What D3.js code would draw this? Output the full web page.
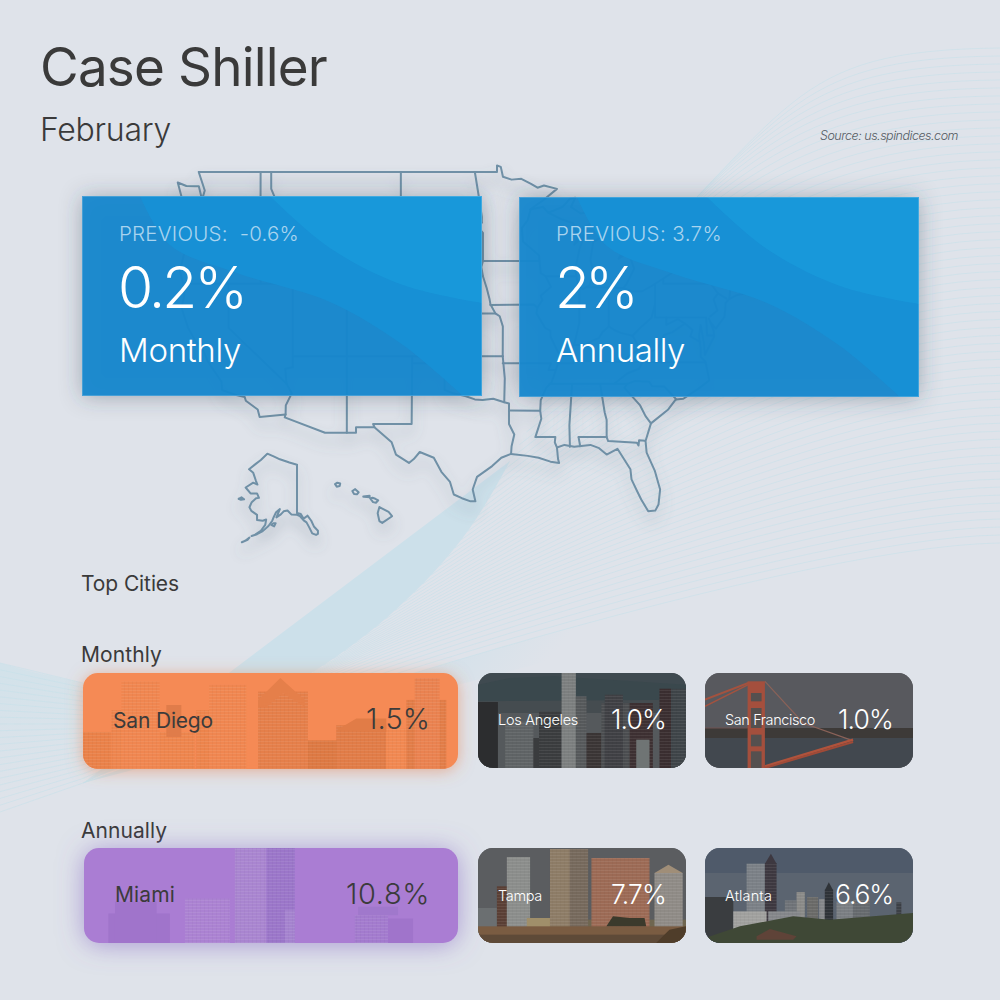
<!DOCTYPE html>
<html><head><meta charset="utf-8">
<script src="https://cdn.jsdelivr.net/npm/d3@7"></script>
<style>html,body{margin:0;padding:0;background:#dfe3ea}svg{display:block}text{font-family:Inter,"Open Sans",sans-serif}</style>
</head><body><svg id="c" width="1000" height="1000" viewBox="0 0 1000 1000"></svg>
<script>
// ---------- data ----------
const titleText = "Case Shiller", monthText = "February", sourceText = "Source: us.spindices.com";
const headlineLabels = ["Monthly", "Annually"];
const headlineValues = [0.2, 2];
const previousValues = [-0.6, 3.7];
const monthlyCities = ["San Diego", "Los Angeles", "San Francisco"];
const monthlyValues = [1.5, 1.0, 1.0];
const annualCities = ["Miami", "Tampa", "Atlanta"];
const annualValues = [10.8, 7.7, 6.6];

// US map, [lon, lat]
const coast48 = [[-124.7,48.38],[-123.9,48.17],[-123.1,48.15],[-122.75,48.15],[-122.45,47.35],[-122.2,47.9],[-122.5,48.5],[-122.76,49],[-95.15,49],[-95.15,49.38],[-94.8,49.3],[-94.6,48.72],[-93.8,48.55],[-92.9,48.6],[-92,48.3],[-91.4,48.07],[-90.8,48.2],[-89.6,48.0],[-90.9,47.3],[-92.1,46.75],[-90.9,46.9],[-90.4,46.55],[-89.1,46.9],[-88.4,47.4],[-87.9,47.47],[-88.3,46.9],[-87.4,46.5],[-86.2,46.65],[-85,46.75],[-84.4,46.5],[-84.1,46.0],[-84.7,45.9],[-85.5,46.05],[-86.5,45.85],[-87.0,45.7],[-87.6,45.1],[-88.0,44.55],[-87.0,45.25],[-87.5,44.3],[-87.9,43.0],[-87.8,42.5],[-87.6,41.8],[-87.2,41.65],[-86.6,41.9],[-86.25,42.7],[-86.5,43.6],[-86.25,44.7],[-85.6,45.0],[-85.0,45.7],[-84.75,45.78],[-83.4,45.2],[-83.3,44.4],[-83.9,43.65],[-83.0,44.05],[-82.45,43.0],[-82.9,42.35],[-83.15,42.0],[-83.45,41.72],[-82.7,41.5],[-81.7,41.5],[-80.5,42.0],[-79.0,42.7],[-78.9,42.9],[-79.05,43.27],[-77.5,43.25],[-76.2,43.55],[-76.3,44.1],[-75.3,44.85],[-74.7,45.0],[-71.5,45.0],[-71.3,45.3],[-70.8,45.4],[-70.3,45.9],[-70.0,46.7],[-69.2,47.45],[-68.3,47.35],[-67.8,47.07],[-67.8,45.7],[-67.45,45.3],[-67.0,44.85],[-68.5,44.3],[-69.8,43.8],[-70.6,43.1],[-70.8,42.7],[-71.0,42.3],[-70.6,41.95],[-70.0,41.8],[-70.0,42.05],[-69.95,41.7],[-70.65,41.55],[-71.4,41.45],[-72.9,41.25],[-73.7,40.95],[-74.0,40.7],[-74.0,40.45],[-74.1,39.75],[-74.9,38.95],[-75.4,39.4],[-75.55,39.65],[-75.1,38.8],[-75.05,38.4],[-75.9,37.1],[-76.0,37.95],[-76.3,39.2],[-76.45,38.4],[-76.3,37.6],[-76.3,36.95],[-75.85,36.6],[-75.5,35.25],[-76.5,34.65],[-77.9,33.9],[-78.6,33.85],[-79.3,33.1],[-80.9,32.05],[-81.4,30.7],[-81.3,29.8],[-80.55,28.4],[-80.05,26.9],[-80.2,25.7],[-80.5,25.2],[-81.15,25.15],[-81.8,26.1],[-82.2,26.8],[-82.7,27.7],[-82.8,28.5],[-83.4,29.3],[-84.0,30.1],[-85.0,29.65],[-85.7,30.15],[-86.5,30.4],[-88.0,30.25],[-88.9,30.4],[-89.6,30.2],[-89.5,29.3],[-89.4,29.0],[-90.2,29.1],[-91.3,29.4],[-92.3,29.55],[-93.85,29.7],[-94.75,29.4],[-95.6,28.75],[-97.0,27.9],[-97.4,26.9],[-97.15,25.95],[-97.6,25.95],[-98.4,26.2],[-99.15,26.5],[-99.5,27.5],[-100.3,28.3],[-101.0,29.4],[-102.3,29.85],[-102.85,29.3],[-103.3,29.0],[-104.5,29.65],[-104.9,30.6],[-106.5,31.75],[-108.2,31.75],[-108.2,31.33],[-111.07,31.33],[-114.8,32.5],[-114.72,32.72],[-117.12,32.53],[-117.3,33.1],[-118.4,33.75],[-118.5,34.03],[-119.2,34.15],[-120.6,34.55],[-120.65,35.15],[-121.9,36.6],[-122.5,37.7],[-123.0,38.0],[-123.75,39.0],[-124.35,40.4],[-124.1,41.2],[-124.2,42.0],[-124.5,42.85],[-124.1,44.0],[-123.95,46.2],[-124.1,46.9],[-124.7,48.38]];
const stateBorders = [
 [[-124,46.25],[-123.2,46.15],[-122.8,45.65],[-121.2,45.65],[-119.3,45.93],[-116.92,46.0]],
 [[-117.03,49],[-117.04,46.4],[-116.92,46.0],[-116.5,45.5],[-116.9,45.0],[-117.2,44.4],[-117.03,43.8],[-117.03,42]],
 [[-124.2,42],[-111.05,42]],
 [[-120,42],[-120,39],[-114.63,35],[-114.15,34.3],[-114.7,33.4],[-114.72,32.72]],
 [[-114.63,35],[-114.75,36.1],[-114.05,36.2]],
 [[-114.05,42],[-114.05,36.2]],
 [[-114.05,37],[-94.62,37]],
 [[-109.05,41],[-109.05,31.33]],
 [[-111.05,45],[-111.05,41],[-102.05,41],[-102.05,37]],
 [[-111.05,45],[-104.05,45],[-104.05,41]],
 [[-116.05,49],[-116.05,48],[-115.7,47.45],[-114.7,46.7],[-114.35,46.65],[-114.5,45.55],[-113.9,45.6],[-113.45,44.95],[-113,44.45],[-111.5,44.55],[-111.05,44.5]],
 [[-104.05,49],[-104.05,45]],
 [[-104.05,45.94],[-96.56,45.94]],
 [[-104.05,43],[-98.5,43],[-97.9,42.8],[-97.2,42.85],[-96.45,42.5]],
 [[-102.05,40],[-95.3,40]],
 [[-103.0,37],[-103.05,32],[-106.62,32],[-106.5,31.78]],
 [[-103,36.5],[-100,36.5],[-100,34.56],[-99.2,34.3],[-98.1,34.1],[-97.2,33.85],[-96.5,33.8],[-95.5,33.9],[-94.48,33.64]],
 [[-94.62,37],[-94.43,35.4],[-94.48,33.64],[-94.04,33.55],[-94.04,32],[-93.55,31.2],[-93.8,30.3],[-93.85,29.7]],
 [[-94.04,33.02],[-91.15,33.0]],
 [[-97.2,49],[-96.85,47.6],[-96.55,46.3],[-96.56,45.94],[-96.85,45.6],[-96.45,45.3],[-96.45,43.5],[-91.22,43.5]],
 [[-96.45,43.5],[-96.6,43.1],[-96.45,42.5],[-96.1,41.7],[-95.85,41],[-95.75,40.6],[-95.3,40],[-94.9,39.8],[-94.61,39.1],[-94.62,37]],
 [[-95.77,40.58],[-91.73,40.6],[-91.42,40.38]],
 [[-92.05,46.72],[-92.3,46.1],[-92.85,45.6],[-92.75,44.75],[-91.25,43.85],[-91.22,43.5],[-91.1,42.7],[-90.65,42.5],[-90.15,41.8],[-91.1,41.2],[-90.95,40.9],[-91.42,40.38],[-91.5,40.0],[-90.7,39.0],[-90.2,38.8],[-90.2,38.4],[-89.5,37.3],[-89.15,37.0],[-89.5,36.5],[-89.7,36.0],[-90.1,35.1],[-90.6,34.7],[-91.1,33.8],[-91.15,33.0],[-91.05,32.4],[-91.6,31.0],[-89.75,31.0],[-89.8,30.6],[-89.6,30.2]],
 [[-94.62,36.5],[-90.15,36.5],[-90.4,36.0],[-89.7,36.0]],
 [[-90.65,42.5],[-87.8,42.5]],
 [[-90.4,46.55],[-89.1,46.13],[-88.1,45.9],[-87.8,45.35],[-87.6,45.1]],
 [[-87.53,41.7],[-87.53,39.35],[-87.95,38.0],[-88.05,37.8]],
 [[-89.15,37.0],[-88.45,37.1],[-88.05,37.8],[-87.1,37.8],[-86.3,38.1],[-85.7,38.3],[-85.4,38.7],[-84.8,39.1],[-84.3,38.85],[-83.7,38.65],[-82.6,38.45],[-81.75,39.1],[-80.85,39.7],[-80.52,40.63]],
 [[-84.8,39.1],[-84.8,41.75]],
 [[-86.8,41.76],[-84.8,41.75],[-83.45,41.72]],
 [[-80.52,42],[-80.52,39.72],[-75.79,39.72],[-75.7,38.46],[-75.05,38.46]],
 [[-79.76,42.27],[-79.76,42],[-75.35,42],[-74.7,41.36],[-75.1,40.95],[-74.75,40.2],[-75.4,39.8]],
 [[-74.7,41.36],[-73.9,41.0]],
 [[-73.65,41.0],[-73.5,42.05],[-73.27,42.75],[-73.35,45.0]],
 [[-73.5,42.05],[-71.8,42.02],[-71.38,42.02],[-71.2,41.5]],
 [[-71.8,42.02],[-71.85,41.32]],
 [[-73.27,42.75],[-71.3,42.7],[-70.8,42.87]],
 [[-72.46,42.73],[-72.3,43.7],[-72.05,44.3],[-71.5,45.0]],
 [[-71.08,45.3],[-70.98,43.4],[-70.7,43.07]],
 [[-79.48,39.72],[-79.48,39.2],[-78.4,39.6],[-77.75,39.3],[-77.05,38.85],[-77.25,38.4],[-76.3,38.0]],
 [[-77.75,39.3],[-78.9,38.7],[-79.7,38.5],[-80.3,37.5],[-81.7,37.2],[-81.95,37.55],[-82.6,38.45]],
 [[-81.95,37.55],[-83.68,36.6],[-81.68,36.59],[-75.85,36.55]],
 [[-89.5,36.5],[-88.07,36.5],[-88.07,36.68],[-83.68,36.6]],
 [[-81.68,36.59],[-82.0,36.1],[-83.1,35.75],[-84.3,35.0]],
 [[-90.3,35.0],[-83.1,35.0],[-82.4,35.2],[-81.05,35.15],[-80.8,34.82],[-79.67,34.8],[-78.55,33.85]],
 [[-83.1,35.0],[-83.35,34.7],[-81.9,33.4],[-81.4,32.6],[-80.9,32.05]],
 [[-85.6,34.98],[-85.18,32.87],[-85.0,32.3],[-85.0,31.0],[-84.86,30.7],[-82.2,30.57],[-82.05,30.35],[-82.0,30.75],[-81.45,30.72]],
 [[-87.6,31.0],[-85.0,31.0]],
 [[-87.6,31.0],[-87.45,30.3]],
 [[-88.2,35.0],[-88.45,31.9],[-88.4,30.25]]
];
const alaskaShapes = [
 [[-141,69.65],[-145,70],[-150,70.5],[-153,70.9],[-156.6,71.35],[-160,70.4],[-163,69.7],[-166.2,68.9],[-164,68.3],[-162.6,66.9],[-161.8,66.2],[-164,66.55],[-168,65.65],[-165.4,64.5],[-162,64.5],[-161,63.6],[-162.5,63.5],[-164.8,62.7],[-166,61.6],[-165,60.8],[-162,59.9],[-162,58.7],[-159,58.5],[-157.2,58.8],[-157.7,57.5],[-160,56],[-163,55],[-164.9,54.6],[-162,55.1],[-159,55.9],[-156,57.2],[-154,58.5],[-153.2,59.4],[-152,60.5],[-150,61.2],[-151.8,59.3],[-149.5,60],[-148,60.7],[-146,60.9],[-144,60],[-141,59.9],[-139.5,59.6],[-137.5,58.6],[-136,58.1],[-134.5,56.8],[-133,55.3],[-131,54.9],[-130,55.2],[-130,56.0],[-132,57],[-133.5,58.5],[-135.5,59.7],[-137.5,59],[-139,60.1],[-141,60.3],[-141,69.65]],
 [[-171.7,63.4],[-170.2,63.7],[-168.8,63.3],[-170.5,63.2],[-171.7,63.4]],
 [[-154.6,57.5],[-153.4,57.9],[-152.2,57.9],[-153,57.1],[-154.6,57.5]],
 [[-170,52.9],[-168,53.4],[-166,54.2],[-167,53.6],[-170,52.9]]
];
const hawaiiShapes = [
 [[-159.75,22.1],[-159.55,22.22],[-159.3,22.15],[-159.35,21.95],[-159.6,21.9],[-159.75,22.1]],
 [[-158.25,21.55],[-158.0,21.7],[-157.7,21.45],[-157.85,21.28],[-158.1,21.3],[-158.25,21.55]],
 [[-157.3,21.1],[-156.75,21.17],[-156.75,21.05],[-157.25,21.08],[-157.3,21.1]],
 [[-156.7,20.95],[-156.5,21.0],[-156.25,20.92],[-156,20.8],[-156.2,20.6],[-156.45,20.65],[-156.7,20.95]],
 [[-155.9,20.25],[-155.1,19.85],[-154.8,19.5],[-155.65,18.95],[-155.9,19.1],[-156.05,19.75],[-155.9,20.25]]
];

// Photo-like tile scenery: [x0, x1, top, colour, windows?, bottom?]
const sanDiegoBlocks = [[40,125,215,"#ea8149",1],[125,165,150,"#ee854e",1],[155,270,65,"#f08650",1],[270,375,215,"#ee854d",1],[290,335,135,"#e07c4a",0,230],[380,420,150,"#ed844c",1],[418,530,75,"#f08650",1],[565,715,95,"#e57f4a",1],[715,830,240,"#dd7943",1],[800,950,195,"#e17c47",1],[950,1010,205,"#f18851",1],[1010,1130,120,"#e27d48",1],[1035,1110,55,"#ea8250",1]];
const sanDiegoPolys = [[[[565,120],[632,55],[705,120],[705,140],[640,100],[590,140],[565,140]],"#e57f4a"],[[[800,210],[860,175],[950,175],[950,215]],"#e17c47"]];
const miamiBlocks = [[115,300,760,"#a074cb",0],[135,260,725,"#a074cb",0],[345,480,715,"#ab82d2",1],[495,590,565,"#a985d0",1],[590,675,565,"#9b76c9",1],[645,675,750,"#a583cf",1],[855,955,765,"#a37bce",1],[865,985,740,"#a078cc",0,765],[955,1030,775,"#a074cb",0]];
const laBack = [[23,650,40,"#3f4a50",0],[23,650,115,"#454c50",0],[23,650,160,"#55595c",0]];
const laPolys = [[[[23,75],[120,55],[250,50],[420,60],[650,75],[650,120],[23,125]],"#3a484d"]];
const laBlocks = [[23,83,127,"#2c2d2f",0],[105,190,185,"#5f6365",1],[190,207,235,"#3a3c3e",0],[207,275,155,"#3a3c3e",1],[275,318,40,"#7c7f7f",1],[318,350,110,"#56595b",1],[350,395,220,"#3a3535",1],[395,480,130,"#4b4d50",1],[405,460,105,"#3f4044",1],[480,550,130,"#3d3032",1],[500,540,240,"#6f7474",0],[570,605,87,"#3a2e30",1],[605,650,87,"#3e4448",1]];
const sfBack = [[705,1330,40,"#58595e",0],[705,1330,205,"#3d3a38",0,240],[705,1330,235,"#42484f",0]];
const sfBlocks = [[833,885,65,"#a44f3d",0],[843,875,100,"#55504f",0,125],[843,875,145,"#55504f",0,205],[843,875,225,"#55504f",0,260],[843,875,275,"#55504f",0,325]];
const sfLines = [[[[705,120],[835,70]],"#a3523f",2],[[[705,140],[835,75]],"#a3523f",1.5],[[[885,65],[1000,190],[1140,240]],"#8a6258",1.2],[[[885,320],[1150,240]],"#b0533c",2.5],[[[885,325],[1150,247]],"#a04a37",2],[[[705,205],[833,205]],"#6e5250",1]];
const tampaBack = [[23,650,565,"#5b5d60",0],[23,650,780,"#6f6650",0]];
const tampaBlocks = [[23,80,745,"#6b6f71",0],[80,110,680,"#5a3f35",1],[110,180,592,"#8b8d8b",1],[170,240,775,"#a08f6a",0],[240,300,568,"#8d7c66",1],[300,355,568,"#76695c",1],[365,540,595,"#9c6a55",1],[555,640,640,"#8f8b86",1],[23,650,800,"#7a5c42",0],[23,650,825,"#5e4a38",0]];
const tampaPolys = [[[[555,640],[597,615],[640,640]],"#a08e78"],[[[410,800],[430,770],[480,775],[525,775],[530,800]],"#3b3a2c"],[[[560,850],[600,810],[650,800],[650,850]],"#4f3d2a"]];
const atlantaBack = [[705,1330,565,"#4f5a6a",0],[705,1330,640,"#5b6470",0]];
const atlantaBlocks = [[830,885,612,"#7b8086",1],[885,920,610,"#3d3840",1],[705,790,712,"#3a3d40",0],[790,890,755,"#a0a09e",1],[945,980,722,"#6f7378",1],[980,1005,697,"#8a8a88",1],[1012,1045,712,"#6a6a68",1],[1048,1065,718,"#85878a",1],[1065,1090,690,"#2f3338",1],[1100,1150,725,"#7a7e82",1],[1150,1200,720,"#666a6e",1],[1280,1295,728,"#3c4046",1],[895,990,755,"#84868a",1]];
const atlantaPolys = [[[[885,612],[903,582],[920,612]],"#3d3840"],[[[1065,692],[1077,668],[1090,692]],"#2f3338"],[[[705,835],[810,800],[970,770],[1080,780],[1330,760],[1330,850],[705,850]],"#3f4836"],[[[860,830],[900,808],[980,830],[970,840],[860,840]],"#5f4338"]];

// ---------- drawing ----------
const svg = d3.select("#c");
const defs = svg.append("defs");
const BG = "#dfe3ea";
svg.append("rect").attr("width",1000).attr("height",1000).attr("fill",BG);

function shadow(id, color, std, dy, op){
  const f = defs.append("filter").attr("id",id).attr("x","-30%").attr("y","-50%").attr("width","160%").attr("height","200%");
  f.append("feDropShadow").attr("dx",0).attr("dy",dy).attr("stdDeviation",std).attr("flood-color",color).attr("flood-opacity",op);
}
shadow("cardS","#33404f",11,1,.38);
shadow("mapS","#5a6a7a",7,9,.42);
shadow("orangeS","#e8763a",8,2,.5);
shadow("purpleS","#7d5cc0",13,2,.55);

// decorative line ribbon
const grad = defs.append("linearGradient").attr("id","teal").attr("gradientUnits","userSpaceOnUse").attr("x1",430).attr("y1",570).attr("x2",545).attr("y2",665);
grad.append("stop").attr("offset",0).attr("stop-color","#cce0ea").attr("stop-opacity",1);
grad.append("stop").attr("offset",1).attr("stop-color","#cce0ea").attr("stop-opacity",0);
const gradL = defs.append("linearGradient").attr("id","tealL").attr("gradientUnits","userSpaceOnUse").attr("x1",0).attr("y1",670).attr("x2",30).attr("y2",800);
gradL.append("stop").attr("offset",0).attr("stop-color","#d2e2ea").attr("stop-opacity",1);
gradL.append("stop").attr("offset",1).attr("stop-color","#d2e2ea").attr("stop-opacity",0);
const edgeX = d3.interpolateBasis([697,640,560,500,467,400,317,240,83]);
const edgeY = d3.interpolateBasis([197,255,370,480,537,610,673,712,783]);
const bez = (a,b,c,d,t)=>{const u=1-t;return u*u*u*a+3*u*u*t*b+3*u*t*t*c+t*t*t*d;};
function ribbonLine(t){
  const s = t, p0=[edgeX(s),edgeY(s)], e=[1000,48+495*t];
  const p1=[p0[0]+(e[0]-p0[0])*.35, p0[1]+(e[1]-p0[1])*.35-32-28*(1-t)];
  const p2=[e[0]-170,e[1]+2];
  return d3.range(0,1.001,.04).map(k=>[bez(p0[0],p1[0],p2[0],e[0],k),bez(p0[1],p1[1],p2[1],e[1],k)]);
}
const lineGen = d3.line();
const lowest = ribbonLine(1);
const edgePts = d3.range(.36,1.001,.02).map(s=>[edgeX(s),edgeY(s)]);
svg.append("path").attr("d",lineGen(edgePts.concat(lowest.slice().reverse()))+"Z").attr("fill","url(#teal)");
svg.append("path").attr("d","M0,663 C30,672 60,678 83,683 L240,700 L240,712 L83,783 L0,812 Z").attr("fill","url(#tealL)");
const rib = svg.append("g").attr("fill","none").attr("stroke","#c6e0ea").attr("stroke-width",.8).attr("stroke-opacity",.7);
d3.range(0,1.0001,1/62).forEach(t=>rib.append("path").attr("d",lineGen(ribbonLine(t))));
d3.range(0,1.0001,1/22).forEach(t=>rib.append("path").attr("d",lineGen([[0,663+149*t],[83,683+100*t],[240,700+12*t]])));

// map
const merc = d3.geoMercator().scale(1).translate([0,0]);
const mx = p=>merc(p)[0], my = p=>merc(p)[1];
function projector(anchor, pixel, kx, ky){
  const a = merc(anchor);
  const sx = d3.scaleLinear().domain([a[0],a[0]+1]).range([pixel[0],pixel[0]+kx]);
  const sy = d3.scaleLinear().domain([a[1],a[1]+1]).range([pixel[1],pixel[1]+ky]);
  return d3.line().x(d=>sx(mx(d))).y(d=>sy(my(d)));
}
const main = projector([-95.15,49],[497,172],619,640);
const ak   = projector([-141,69.6],[297,465],109,124);
const hi   = projector([-155.5,19.6],[384,515],660,660);
const mapG = svg.append("g").attr("fill","none").attr("stroke","#6f90a6").attr("stroke-width",2).attr("stroke-linejoin","round").attr("stroke-linecap","round").attr("filter","url(#mapS)");
mapG.append("path").attr("d",main(coast48));
stateBorders.forEach(b=>mapG.append("path").attr("d",main(b)));
alaskaShapes.forEach(b=>mapG.append("path").attr("d",ak(b)));
hawaiiShapes.forEach(b=>mapG.append("path").attr("d",hi(b)));

// fitted text helper
function put(g, s, x, y, size, weight, fill, width, anchor, style){
  const t = g.append("text").attr("x",x).attr("y",y).attr("font-size",size).attr("font-weight",weight).attr("fill",fill).text(s);
  if(style) t.attr("font-style",style);
  if(width){
    const w = t.node().getComputedTextLength();
    t.attr("letter-spacing",(width-w)/Math.max(1,s.length));
  }
  if(anchor==="end") t.attr("x",x-width);
  return t;
}
const pct1 = v=>d3.format(".1f")(v)+"%";
const txt = svg.append("g");
put(txt,titleText,40,86,53,400,"#3a3a3a",287);
put(txt,monthText,40,141,32,300,"#3a3a3a",131);
put(txt,sourceText,958,140,12.5,300,"#555b63",138,"end","italic");

// headline cards
const cardW=400, cardH=200;
const midBand = [[58,0],[88,49],[155,77],[248,106],[321,149],[381,200]];
const lightBand = [[188,0],[248,52],[321,89],[400,107]];
const bandLine = d3.line().curve(d3.curveCatmullRom);
headlineLabels.forEach((lab,i)=>{
  const x = i? 519:82, y = i? 197:196;
  const g = svg.append("g").attr("transform",`translate(${x},${y})`);
  g.append("rect").attr("width",cardW).attr("height",cardH).attr("fill","#1487ce").attr("fill-opacity",.95).attr("filter","url(#cardS)");
  defs.append("clipPath").attr("id","cc"+i).append("rect").attr("width",cardW).attr("height",cardH);
  const b = g.append("g").attr("clip-path",`url(#cc${i})`);
  b.append("path").attr("d",bandLine(midBand)+"L400,200L400,0Z").attr("fill","#1790d5").attr("fill-opacity",.95);
  b.append("path").attr("d",bandLine(lightBand)+"L400,0Z").attr("fill","#1899da").attr("fill-opacity",.95);
  g.append("rect").attr("x",.5).attr("y",.5).attr("width",cardW-1).attr("height",cardH-1).attr("fill","none").attr("stroke","#fff").attr("stroke-opacity",.18);
  const prevText = i? `PREVIOUS: ${previousValues[i]}%` : `PREVIOUS:\u00a0 ${previousValues[i]}%`;
  put(g,prevText,37,i?44:45,20.5,300,"#a9d4ef",i?166:180);
  put(g,i?`${headlineValues[i]}%`:pct1(headlineValues[i]),36,i?111:112,57,300,"#ffffff",i?79:127);
  put(g,lab,37,i?165:166,33,300,"#ffffff",i?129:122);
});

// section labels
put(txt,"Top Cities",81,591,21,400,"#3a3a3a",98);
put(txt,"Monthly",81,662,21,400,"#3a3a3a",81);
put(txt,"Annually",81,838,21,400,"#3a3a3a",86);

// tiles
defs.append("pattern").attr("id","win").attr("width",4).attr("height",3).attr("patternUnits","userSpaceOnUse")
  .call(p=>{p.append("rect").attr("width",4).attr("height",1).attr("fill","#fff").attr("fill-opacity",.07);
            p.append("rect").attr("width",1).attr("height",3).attr("fill","#000").attr("fill-opacity",.025);});
function tile(id, box, dom, base, scene, filter){
  const [x,y,w,h]=box;
  const sx=d3.scaleLinear().domain(dom[0]).range([x,x+w]), sy=d3.scaleLinear().domain(dom[1]).range([y,y+h]);
  const g=svg.append("g");
  g.append("rect").attr("x",x).attr("y",y).attr("width",w).attr("height",h).attr("rx",15).attr("fill",base).attr("filter",filter||null);
  defs.append("clipPath").attr("id","t"+id).append("rect").attr("x",x).attr("y",y).attr("width",w).attr("height",h).attr("rx",15);
  const c=g.append("g").attr("clip-path",`url(#t${id})`);
  const block=b=>{
    const bot=b[5]===undefined?dom[1][1]:b[5];
    c.append("rect").attr("x",sx(b[0])).attr("y",sy(b[2])).attr("width",sx(b[1])-sx(b[0])).attr("height",sy(bot)-sy(b[2])).attr("fill",b[3]);
    if(b[4]) c.append("rect").attr("x",sx(b[0])).attr("y",sy(b[2])).attr("width",sx(b[1])-sx(b[0])).attr("height",sy(bot)-sy(b[2])).attr("fill","url(#win)");
  };
  const ln=d3.line().x(d=>sx(d[0])).y(d=>sy(d[1]));
  (scene.back||[]).forEach(block);
  (scene.polysBack||[]).forEach(p=>c.append("path").attr("d",ln(p[0])+"Z").attr("fill",p[1]));
  (scene.lines||[]).forEach(l=>c.append("path").attr("d",ln(l[0])).attr("fill","none").attr("stroke",l[1]).attr("stroke-width",l[2]));
  (scene.blocks||[]).forEach(block);
  (scene.polys||[]).forEach(p=>c.append("path").attr("d",ln(p[0])+"Z").attr("fill",p[1]));
  return g;
}
const boxes = {monthly:[[83,673,375,96],[478,673,208,95],[705,673,208,95]], annual:[[84,848,374,95],[478,848,208,95],[705,848,208,95]]};
tile("sd",boxes.monthly[0],[[40,1165],[40,325]],"#f58a54",{blocks:sanDiegoBlocks,polys:sanDiegoPolys},"url(#orangeS)");
tile("la",boxes.monthly[1],[[23,650],[40,325]],"#45494d",{back:laBack,polysBack:laPolys,blocks:laBlocks});
tile("sf",boxes.monthly[2],[[705,1330],[40,325]],"#58595e",{back:sfBack,lines:sfLines,blocks:sfBlocks});
tile("mi",boxes.annual[0],[[42,1165],[565,848]],"#aa7dd3",{blocks:miamiBlocks},"url(#purpleS)");
tile("ta",boxes.annual[1],[[23,650],[565,850]],"#5b5d60",{back:tampaBack,blocks:tampaBlocks,polys:tampaPolys});
tile("at",boxes.annual[2],[[705,1330],[565,850]],"#4f5a6a",{back:atlantaBack,blocks:atlantaBlocks,polys:atlantaPolys});

const tt = svg.append("g");
const nameSpec = [[113,728,21,100],[498,725,14.5,80],[725,725,14.5,90]], valSpec=[[430,729,29,64],[666,729,26.5,55],[893,729,26.5,55]];
const nameSpecA = [[115,902,21,60],[498,901,14.5,44],[725,901,14.5,47]], valSpecA=[[430,904,29,84],[666,904,26.5,55],[893,904,26.5,58]];
monthlyCities.forEach((n,i)=>{
  const col=i?"#ffffff":"#3b3b3b";
  put(tt,n,nameSpec[i][0],nameSpec[i][1],nameSpec[i][2],i?300:400,col,nameSpec[i][3]);
  put(tt,pct1(monthlyValues[i]),valSpec[i][0],valSpec[i][1],valSpec[i][2],300,col,valSpec[i][3],"end");
});
annualCities.forEach((n,i)=>{
  const col=i?"#ffffff":"#3b3b3b";
  put(tt,n,nameSpecA[i][0],nameSpecA[i][1],nameSpecA[i][2],i?300:400,col,nameSpecA[i][3]);
  put(tt,pct1(annualValues[i]),valSpecA[i][0],valSpecA[i][1],valSpecA[i][2],300,col,valSpecA[i][3],"end");
});
</script></body></html>
